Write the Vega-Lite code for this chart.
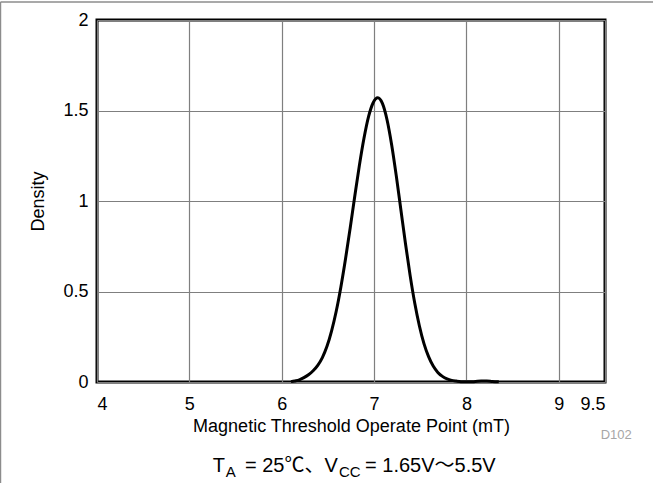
{
  "$schema": "https://vega.github.io/schema/vega-lite/v6.json",
  "width": 508,
  "height": 362,
  "autosize": "none",
  "padding": {"left": 97, "top": 20, "right": 48, "bottom": 101},
  "background": "white",
  "config": {
    "view": {"stroke": "black", "strokeWidth": 3},
    "font": "Liberation Sans",
    "axis": {
      "labelFont": "Liberation Sans",
      "titleFont": "Liberation Sans",
      "labelFontSize": 18,
      "titleFontSize": 18,
      "labelColor": "black",
      "titleColor": "black",
      "titleFontWeight": "normal",
      "ticks": false,
      "domain": false,
      "gridColor": "#7f7f7f",
      "gridWidth": 1.2,
      "gridOpacity": 1
    }
  },
  "layer": [
    {
      "data": {
        "values": [
          {"x": 6.10, "y": 0.002},
          {"x": 6.14, "y": 0.006},
          {"x": 6.19, "y": 0.012},
          {"x": 6.24, "y": 0.024},
          {"x": 6.29, "y": 0.040},
          {"x": 6.34, "y": 0.062},
          {"x": 6.39, "y": 0.092},
          {"x": 6.44, "y": 0.135},
          {"x": 6.49, "y": 0.197},
          {"x": 6.54, "y": 0.283},
          {"x": 6.59, "y": 0.391},
          {"x": 6.64, "y": 0.524},
          {"x": 6.69, "y": 0.678},
          {"x": 6.74, "y": 0.847},
          {"x": 6.79, "y": 1.023},
          {"x": 6.84, "y": 1.194},
          {"x": 6.89, "y": 1.345},
          {"x": 6.94, "y": 1.466},
          {"x": 6.99, "y": 1.543},
          {"x": 7.04, "y": 1.570},
          {"x": 7.09, "y": 1.539},
          {"x": 7.14, "y": 1.449},
          {"x": 7.19, "y": 1.311},
          {"x": 7.24, "y": 1.140},
          {"x": 7.29, "y": 0.952},
          {"x": 7.34, "y": 0.764},
          {"x": 7.39, "y": 0.589},
          {"x": 7.44, "y": 0.436},
          {"x": 7.49, "y": 0.311},
          {"x": 7.54, "y": 0.212},
          {"x": 7.59, "y": 0.140},
          {"x": 7.64, "y": 0.088},
          {"x": 7.69, "y": 0.053},
          {"x": 7.74, "y": 0.031},
          {"x": 7.79, "y": 0.017},
          {"x": 7.84, "y": 0.009},
          {"x": 7.89, "y": 0.005},
          {"x": 7.94, "y": 0.002},
          {"x": 8.00, "y": 0.001},
          {"x": 8.08, "y": 0.002},
          {"x": 8.16, "y": 0.005},
          {"x": 8.22, "y": 0.006},
          {"x": 8.28, "y": 0.003},
          {"x": 8.35, "y": 0.001}
        ]
      },
      "mark": {"type": "line", "color": "black", "strokeWidth": 3, "interpolate": "monotone"},
      "encoding": {
        "x": {
          "field": "x",
          "type": "quantitative",
          "scale": {"domain": [4, 9.5], "nice": false, "zero": false},
          "axis": {
            "values": [4, 5, 6, 7, 8, 9, 9.5],
            "format": "~g",
            "title": "Magnetic Threshold Operate Point (mT)",
            "labelPadding": 13,
            "titlePadding": 4
          }
        },
        "y": {
          "field": "y",
          "type": "quantitative",
          "scale": {"domain": [0, 2], "nice": false},
          "axis": {
            "values": [0, 0.5, 1, 1.5, 2],
            "format": "~g",
            "title": "Density",
            "labelPadding": 9,
            "titlePadding": 15
          }
        }
      }
    },
    {
      "data": {"values": [{}]},
      "mark": {"type": "text", "text": "T", "align": "left", "baseline": "alphabetic", "fontSize": 20, "font": "Liberation Sans", "clip": false},
      "encoding": {"x": {"datum": 5.253, "type": "quantitative"}, "y": {"datum": -0.4956, "type": "quantitative"}}
    },
    {
      "data": {"values": [{}]},
      "mark": {"type": "text", "text": "A", "align": "left", "baseline": "alphabetic", "fontSize": 15, "font": "Liberation Sans", "clip": false},
      "encoding": {"x": {"datum": 5.395, "type": "quantitative"}, "y": {"datum": -0.523, "type": "quantitative"}}
    },
    {
      "data": {"values": [{}]},
      "mark": {"type": "text", "text": "= 25℃、V", "align": "left", "baseline": "alphabetic", "fontSize": 20, "font": "Liberation Sans, 'Noto Sans CJK JP'", "clip": false},
      "encoding": {"x": {"datum": 5.602, "type": "quantitative"}, "y": {"datum": -0.4956, "type": "quantitative"}}
    },
    {
      "data": {"values": [{}]},
      "mark": {"type": "text", "text": "CC", "align": "left", "baseline": "alphabetic", "fontSize": 15, "font": "Liberation Sans", "clip": false},
      "encoding": {"x": {"datum": 6.62, "type": "quantitative"}, "y": {"datum": -0.523, "type": "quantitative"}}
    },
    {
      "data": {"values": [{}]},
      "mark": {"type": "text", "text": "= 1.65V～5.5V", "align": "left", "baseline": "alphabetic", "fontSize": 20, "font": "Liberation Sans, 'Noto Sans CJK JP'", "clip": false},
      "encoding": {"x": {"datum": 6.902, "type": "quantitative"}, "y": {"datum": -0.4956, "type": "quantitative"}}
    },
    {
      "data": {"values": [{}]},
      "mark": {"type": "text", "text": "D102", "align": "right", "baseline": "alphabetic", "fontSize": 13, "font": "Liberation Sans", "color": "#a6a6a6", "clip": false},
      "encoding": {"x": {"datum": 9.79, "type": "quantitative"}, "y": {"datum": -0.315, "type": "quantitative"}}
    },
    {
      "data": {"values": [{}]},
      "mark": {"type": "rule", "color": "#8c8c8c", "strokeWidth": 1.5, "clip": false},
      "encoding": {"x": {"datum": 2.955, "type": "quantitative"}, "x2": {"datum": 10.03}, "y": {"datum": 2.099, "type": "quantitative"}}
    },
    {
      "data": {"values": [{}]},
      "mark": {"type": "rule", "color": "#8c8c8c", "strokeWidth": 1.5, "clip": false},
      "encoding": {"x": {"datum": 2.955, "type": "quantitative"}, "y": {"datum": 2.099, "type": "quantitative"}, "y2": {"datum": -0.56}}
    }
  ]
}
